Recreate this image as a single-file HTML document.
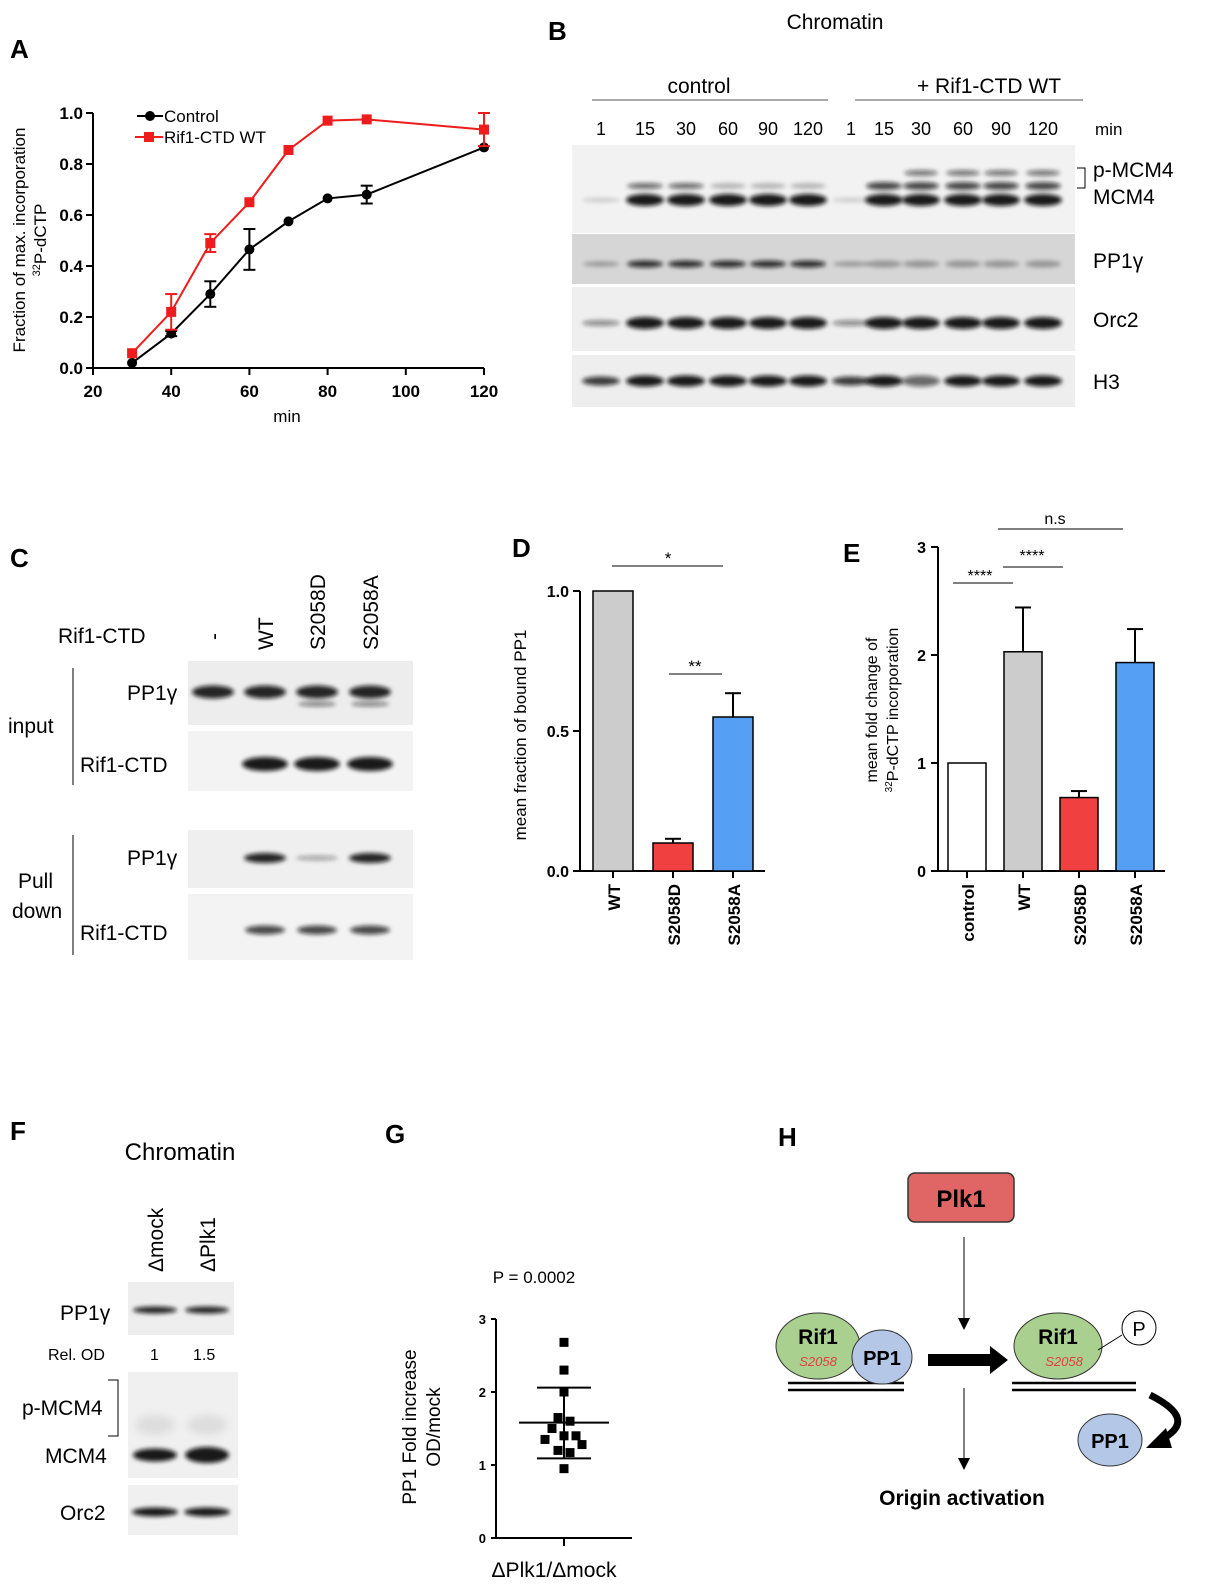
<!DOCTYPE html>
<html><head><meta charset="utf-8"><style>
body{margin:0;background:#fff}
svg{display:block;font-family:"Liberation Sans",Arial,sans-serif}
</style></head><body>
<svg width="1210" height="1595" viewBox="0 0 1210 1595">
<defs>
<filter id="bl" x="-30%" y="-100%" width="160%" height="300%"><feGaussianBlur stdDeviation="2.2"/></filter>
<filter id="bl2" x="-30%" y="-100%" width="160%" height="300%"><feGaussianBlur stdDeviation="4"/></filter>
</defs>
<g font-weight="bold" font-size="26" fill="#000">
<text x="10" y="58">A</text><text x="548" y="40">B</text><text x="10" y="567">C</text>
<text x="512" y="557">D</text><text x="843" y="562">E</text><text x="10" y="1140">F</text>
<text x="385" y="1143">G</text><text x="778" y="1146">H</text></g>
<g id="panelA"></g>
<g id="blotB"></g>
<g id="blotC"></g>
<g id="panelD"></g>
<g id="panelE"></g>
<g id="blotF"></g>
<g id="panelG"></g>
<g>
<rect x="908" y="1173" width="106" height="49" rx="7" fill="#e06666" stroke="#333" stroke-width="1.5"/>
<text x="961" y="1207" text-anchor="middle" font-size="24" font-weight="bold">Plk1</text>
<line x1="964" y1="1237" x2="964" y2="1320" stroke="#000" stroke-width="1"/><path d="M958 1318 L964 1330 L970 1318Z"/>
<line x1="964" y1="1388" x2="964" y2="1460" stroke="#000" stroke-width="1"/><path d="M958 1458 L964 1470 L970 1458Z"/>
<text x="962" y="1505" text-anchor="middle" font-size="21" font-weight="bold">Origin activation</text>
<line x1="788" y1="1383" x2="904" y2="1383" stroke="#000" stroke-width="2.5"/><line x1="788" y1="1390" x2="904" y2="1390" stroke="#000" stroke-width="2.5"/>
<ellipse cx="818" cy="1346" rx="42" ry="33" fill="#a9d08e" stroke="#333"/>
<text x="818" y="1344" text-anchor="middle" font-size="21" font-weight="bold">Rif1</text>
<text x="818" y="1366" text-anchor="middle" font-size="13" font-style="italic" fill="#e04040">S2058</text>
<ellipse cx="882" cy="1357" rx="30" ry="27" fill="#b4c7e7" stroke="#333"/>
<text x="882" y="1365" text-anchor="middle" font-size="20" font-weight="bold">PP1</text>
<path d="M928 1354 L990 1354 L990 1346 L1008 1360 L990 1374 L990 1366 L928 1366Z" fill="#000"/>
<line x1="1012" y1="1383" x2="1136" y2="1383" stroke="#000" stroke-width="2.5"/><line x1="1012" y1="1390" x2="1136" y2="1390" stroke="#000" stroke-width="2.5"/>
<ellipse cx="1058" cy="1346" rx="44" ry="33" fill="#a9d08e" stroke="#333"/>
<text x="1058" y="1344" text-anchor="middle" font-size="21" font-weight="bold">Rif1</text>
<text x="1064" y="1366" text-anchor="middle" font-size="13" font-style="italic" fill="#e04040">S2058</text>
<line x1="1098" y1="1350" x2="1122" y2="1335" stroke="#000"/>
<circle cx="1139" cy="1328" r="17" fill="#fff" stroke="#000"/>
<text x="1139" y="1336" text-anchor="middle" font-size="20">P</text>
<path d="M1150 1395 Q1200 1420 1160 1440" fill="none" stroke="#000" stroke-width="7"/><path d="M1146 1448 L1166 1428 L1172 1448Z"/>
<ellipse cx="1110" cy="1440" rx="32" ry="26" fill="#b4c7e7" stroke="#333"/>
<text x="1110" y="1448" text-anchor="middle" font-size="20" font-weight="bold">PP1</text>
</g>
<script>
const NS="http://www.w3.org/2000/svg";
function mk(p,t,a,txt){const e=document.createElementNS(NS,t);for(const k in a)e.setAttribute(k,a[k]);if(txt!==undefined)e.textContent=txt;p.appendChild(e);return e;}
// ---- Panel A data
const aTimes=[30,40,50,60,70,80,90,120];
const aControl=[0.02,0.135,0.29,0.465,0.575,0.665,0.68,0.865];
const aControlErr=[0,0.01,0.05,0.08,0,0,0.035,0];
const aRif1=[0.058,0.22,0.49,0.65,0.855,0.97,0.975,0.935];
const aRif1Err=[0,0.07,0.035,0,0,0,0,0.065];
const aXTicks=[20,40,60,80,100,120];
const aYTicks=[0,0.2,0.4,0.6,0.8,1.0];
// ---- Panel D data
const dCats=["WT","S2058D","S2058A"];
const dVals=[1.0,0.1,0.55];
const dErr=[0,0.015,0.085];
const dColors=["#cccccc","#f04040","#55a0f5"];
const dTicks=[0,0.5,1.0];
// ---- Panel E data
const eCats=["control","WT","S2058D","S2058A"];
const eVals=[1.0,2.03,0.68,1.93];
const eErr=[0,0.41,0.06,0.31];
const eColors=["#ffffff","#cccccc","#f04040","#55a0f5"];
const eTicks=[0,1,2,3];
// ---- Panel G data
const gVals=[2.68,2.3,2.0,1.65,1.6,1.5,1.35,1.4,1.4,1.28,1.2,1.17,0.95];
const gOff=[0,0,0,-6,6,-12,-19,0,12,18,-6,6,0];
const gMean=1.58,gSdHi=2.06,gSdLo=1.09;
const gTicks=[0,1,2,3];

// Panel A
(function(){const g=document.getElementById('panelA');
const X=v=>93+(v-20)*(484-93)/100, Y=v=>368-v*255;
mk(g,'line',{x1:93,y1:368,x2:484,y2:368,stroke:'#000','stroke-width':2});
mk(g,'line',{x1:93,y1:368,x2:93,y2:113,stroke:'#000','stroke-width':2});
aXTicks.forEach(t=>{mk(g,'line',{x1:X(t),y1:368,x2:X(t),y2:375,stroke:'#000','stroke-width':2});
const e=mk(g,'text',{x:X(t),y:397,'text-anchor':'middle','font-size':17,'font-weight':'bold'},t);});
aYTicks.forEach(t=>{mk(g,'line',{x1:86,y1:Y(t),x2:93,y2:Y(t),stroke:'#000','stroke-width':2});
const e=mk(g,'text',{x:83,y:Y(t)+6,'text-anchor':'end','font-size':17,'font-weight':'bold'},t.toFixed(1));});
mk(g,'text',{x:287,y:422,'text-anchor':'middle','font-size':17},'min');
mk(g,'text',{transform:'translate(25,240) rotate(-90)','text-anchor':'middle','font-size':17},'Fraction of max. incorporation');
const yt=mk(g,'text',{transform:'translate(46,240) rotate(-90)','text-anchor':'middle','font-size':17});
mk(yt,'tspan',{'font-size':11,dy:-6},'32');mk(yt,'tspan',{dy:6},'P-dCTP');
[[aControl,aControlErr,'#000','c'],[aRif1,aRif1Err,'#ee1c1c','s']].forEach(([vals,err,col,sh])=>{
const pts=aTimes.map((t,i)=>X(t)+','+Y(vals[i])).join(' ');
const pl=mk(g,'polyline',{points:pts,fill:'none',stroke:col,'stroke-width':2});
aTimes.forEach((t,i)=>{if(err[i]>0){mk(g,'line',{x1:X(t),y1:Y(vals[i]-err[i]),x2:X(t),y2:Y(vals[i]+err[i]),stroke:col,'stroke-width':2});
[vals[i]-err[i],vals[i]+err[i]].forEach(v=>mk(g,'line',{x1:X(t)-6,y1:Y(v),x2:X(t)+6,y2:Y(v),stroke:col,'stroke-width':2}));}
const m=sh=='c'?mk(g,'circle',{cx:X(t),cy:Y(vals[i]),r:5,fill:col}):mk(g,'rect',{x:X(t)-5,y:Y(vals[i])-5,width:10,height:10,fill:col});
});});
mk(g,'line',{x1:137,y1:116,x2:163,y2:116,stroke:'#000','stroke-width':2});mk(g,'circle',{cx:150,cy:116,r:5});
mk(g,'text',{x:164,y:122,'font-size':17},'Control');
mk(g,'line',{x1:135,y1:137,x2:163,y2:137,stroke:'#ee1c1c','stroke-width':2});mk(g,'rect',{x:144,y:132,width:10,height:10,fill:'#ee1c1c'});
mk(g,'text',{x:164,y:143,'font-size':17},'Rif1-CTD WT');
})();

function band(g,cx,cy,w,h,op,blur){const e=mk(g,'ellipse',{cx:cx,cy:cy,rx:w/2,ry:h/2,fill:'#111','fill-opacity':op,filter:blur?'url(#bl2)':'url(#bl)'});}
// Panel B blot
(function(){const g=document.getElementById('blotB');
const L=[601,645,686,728,768,808,851,884,921,963,1001,1043];
mk(g,'text',{x:835,y:29,'text-anchor':'middle','font-size':21},'Chromatin');
mk(g,'text',{x:699,y:93,'text-anchor':'middle','font-size':21},'control');
mk(g,'text',{x:989,y:93,'text-anchor':'middle','font-size':21},'+ Rif1-CTD WT');
mk(g,'line',{x1:592,y1:100,x2:828,y2:100,stroke:'#555'});mk(g,'line',{x1:855,y1:100,x2:1083,y2:100,stroke:'#555'});
['1','15','30','60','90','120','1','15','30','60','90','120'].forEach((t,i)=>mk(g,'text',{x:L[i],y:135,'text-anchor':'middle','font-size':18},t));
mk(g,'text',{x:1095,y:135,'font-size':17},'min');
mk(g,'rect',{x:572,y:145,width:503,height:88,fill:'#f2f2f2'});
mk(g,'rect',{x:572,y:234,width:503,height:50,fill:'#d6d6d6'});
mk(g,'rect',{x:572,y:287,width:503,height:64,fill:'#efefef'});
mk(g,'rect',{x:572,y:355,width:503,height:52,fill:'#eeeeee'});
L.forEach((x,i)=>{const ctl=i<6,first=(i==0||i==6);
band(g,x,200,38,first?5:12,first?0.15:0.95);
if(!first){band(g,x,186,36,ctl?6:8,ctl?(i<3?0.6:0.25):0.75);if(!ctl&&i>7)band(g,x,173,34,6,0.55);}
band(g,x,264,36,first?5:7,first?0.3:(ctl?0.85:0.3));
band(g,x,323,38,first?6:12,first?0.45:0.95);
band(g,x,381,38,first?9:11,first?0.8:(i==6||i==8?0.6:0.95));});
mk(g,'text',{x:1093,y:177,'font-size':21},'p-MCM4');mk(g,'text',{x:1093,y:204,'font-size':21},'MCM4');
mk(g,'path',{d:'M1077 168 L1085 168 L1085 188 L1077 188',fill:'none',stroke:'#000'});
mk(g,'text',{x:1093,y:268,'font-size':21},'PP1γ');mk(g,'text',{x:1093,y:327,'font-size':21},'Orc2');mk(g,'text',{x:1093,y:389,'font-size':21},'H3');
})();
// Panel C blot
(function(){const g=document.getElementById('blotC');const L=[213,265,317,370];
mk(g,'text',{x:58,y:643,'font-size':21},'Rif1-CTD');
['-','WT','S2058D','S2058A'].forEach((t,i)=>mk(g,'text',{transform:`translate(${L[i]+8},${i==0?640:650}) rotate(-90)`,'font-size':21},t));
mk(g,'rect',{x:188,y:661,width:225,height:64,fill:'#ededed'});mk(g,'rect',{x:188,y:731,width:225,height:60,fill:'#f3f3f3'});
mk(g,'rect',{x:188,y:830,width:225,height:58,fill:'#efefef'});mk(g,'rect',{x:188,y:894,width:225,height:66,fill:'#f3f3f3'});
L.forEach((x,i)=>{band(g,x,692,42,13,0.9);if(i>1)band(g,x,704,38,5,0.5);
if(i>0){band(g,x,764,46,14,0.95);band(g,x,858,42,i==2?5:10,i==2?0.35:0.9);band(g,x,930,40,9,0.75);}});
mk(g,'line',{x1:73,y1:668,x2:73,y2:785,stroke:'#000'});mk(g,'line',{x1:73,y1:835,x2:73,y2:955,stroke:'#000'});
mk(g,'text',{x:8,y:733,'font-size':21},'input');mk(g,'text',{x:18,y:888,'font-size':21},'Pull');mk(g,'text',{x:12,y:918,'font-size':21},'down');
mk(g,'text',{x:127,y:700,'font-size':21},'PP1γ');mk(g,'text',{x:80,y:772,'font-size':21},'Rif1-CTD');
mk(g,'text',{x:127,y:865,'font-size':21},'PP1γ');mk(g,'text',{x:80,y:940,'font-size':21},'Rif1-CTD');
})();
// Panel D
(function(){const g=document.getElementById('panelD');const Y=v=>871-v*280;const X0=580,bw=40,step=60;
mk(g,'line',{x1:X0,y1:871,x2:765,y2:871,stroke:'#000','stroke-width':2});mk(g,'line',{x1:X0,y1:871,x2:X0,y2:591,stroke:'#000','stroke-width':2});
dTicks.forEach(t=>{mk(g,'line',{x1:X0-7,y1:Y(t),x2:X0,y2:Y(t),stroke:'#000','stroke-width':2});mk(g,'text',{x:X0-11,y:Y(t)+6,'text-anchor':'end','font-size':16,'font-weight':'bold'},t.toFixed(1));});
dCats.forEach((c,i)=>{const cx=613+i*step;
const r=mk(g,'rect',{x:cx-bw/2,y:Y(dVals[i]),width:bw,height:871-Y(dVals[i]),fill:dColors[i],stroke:'#000','stroke-width':1.5});
if(dErr[i]>0){mk(g,'line',{x1:cx,y1:Y(dVals[i]),x2:cx,y2:Y(dVals[i]+dErr[i]),stroke:'#000','stroke-width':2});mk(g,'line',{x1:cx-8,y1:Y(dVals[i]+dErr[i]),x2:cx+8,y2:Y(dVals[i]+dErr[i]),stroke:'#000','stroke-width':2});}
mk(g,'line',{x1:cx,y1:871,x2:cx,y2:878,stroke:'#000','stroke-width':2});
mk(g,'text',{transform:`translate(${cx+7},884) rotate(-90)`,'text-anchor':'end','font-size':17,'font-weight':'bold'},c);});
mk(g,'text',{transform:'translate(526,735) rotate(-90)','text-anchor':'middle','font-size':17},'mean fraction of  bound PP1');
mk(g,'line',{x1:612,y1:566,x2:723,y2:566,stroke:'#000'});mk(g,'text',{x:668,y:564,'text-anchor':'middle','font-size':17},'*');
mk(g,'line',{x1:669,y1:674,x2:722,y2:674,stroke:'#000'});mk(g,'text',{x:695,y:672,'text-anchor':'middle','font-size':17},'**');
})();
// Panel E
(function(){const g=document.getElementById('panelE');const Y=v=>871-v*108;const X0=938,bw=38,step=56;
mk(g,'line',{x1:X0,y1:871,x2:1165,y2:871,stroke:'#000','stroke-width':2});mk(g,'line',{x1:X0,y1:871,x2:X0,y2:547,stroke:'#000','stroke-width':2});
eTicks.forEach(t=>{mk(g,'line',{x1:X0-7,y1:Y(t),x2:X0,y2:Y(t),stroke:'#000','stroke-width':2});mk(g,'text',{x:X0-12,y:Y(t)+6,'text-anchor':'end','font-size':16,'font-weight':'bold'},t);});
eCats.forEach((c,i)=>{const cx=967+i*step;
const r=mk(g,'rect',{x:cx-bw/2,y:Y(eVals[i]),width:bw,height:871-Y(eVals[i]),fill:eColors[i],stroke:'#000','stroke-width':1.5});
if(eErr[i]>0){mk(g,'line',{x1:cx,y1:Y(eVals[i]),x2:cx,y2:Y(eVals[i]+eErr[i]),stroke:'#000','stroke-width':2});mk(g,'line',{x1:cx-8,y1:Y(eVals[i]+eErr[i]),x2:cx+8,y2:Y(eVals[i]+eErr[i]),stroke:'#000','stroke-width':2});}
mk(g,'line',{x1:cx,y1:871,x2:cx,y2:878,stroke:'#000','stroke-width':2});
mk(g,'text',{transform:`translate(${cx+7},884) rotate(-90)`,'text-anchor':'end','font-size':17,'font-weight':'bold'},c);});
mk(g,'text',{transform:'translate(877,710) rotate(-90)','text-anchor':'middle','font-size':16},'mean fold change of');
const t=mk(g,'text',{transform:'translate(898,710) rotate(-90)','text-anchor':'middle','font-size':16});mk(t,'tspan',{'font-size':10,dy:-6},'32');mk(t,'tspan',{dy:6},'P-dCTP incorporation');
mk(g,'line',{x1:953,y1:583,x2:1013,y2:583,stroke:'#000'});mk(g,'text',{x:980,y:581,'text-anchor':'middle','font-size':16},'****');
mk(g,'line',{x1:1003,y1:567,x2:1063,y2:567,stroke:'#000'});mk(g,'text',{x:1032,y:561,'text-anchor':'middle','font-size':16},'****');
mk(g,'line',{x1:998,y1:529,x2:1123,y2:529,stroke:'#000'});mk(g,'text',{x:1055,y:524,'text-anchor':'middle','font-size':16},'n.s');
})();
// Panel F
(function(){const g=document.getElementById('blotF');const L=[155,207];
mk(g,'text',{x:180,y:1160,'text-anchor':'middle','font-size':24},'Chromatin');
['Δmock','ΔPlk1'].forEach((t,i)=>mk(g,'text',{transform:`translate(${L[i]+8},1272) rotate(-90)`,'font-size':21},t));
mk(g,'rect',{x:128,y:1282,width:106,height:53,fill:'#eeeeee'});mk(g,'rect',{x:128,y:1372,width:110,height:106,fill:'#f0f0f0'});mk(g,'rect',{x:128,y:1485,width:110,height:50,fill:'#f0f0f0'});
L.forEach((x,i)=>{band(g,x,1310,44,7,0.9);band(g,x,1455,44,i?16:13,0.95);band(g,x,1425,40,20,0.08,true);band(g,x,1512,46,9,0.95);});
mk(g,'text',{x:60,y:1320,'font-size':21},'PP1γ');mk(g,'text',{x:48,y:1360,'font-size':16},'Rel. OD');
mk(g,'text',{x:150,y:1360,'font-size':16},'1');mk(g,'text',{x:193,y:1360,'font-size':16},'1.5');
mk(g,'text',{x:22,y:1415,'font-size':21},'p-MCM4');mk(g,'text',{x:45,y:1463,'font-size':21},'MCM4');mk(g,'text',{x:60,y:1520,'font-size':21},'Orc2');
mk(g,'path',{d:'M108 1380 L118 1380 L118 1436 L108 1436',fill:'none',stroke:'#000'});
})();
// Panel G
(function(){const g=document.getElementById('panelG');const Y=v=>1538-v*73;const X0=496,cx=564;
mk(g,'line',{x1:X0,y1:1538,x2:632,y2:1538,stroke:'#000','stroke-width':2});mk(g,'line',{x1:X0,y1:1538,x2:X0,y2:1319,stroke:'#000','stroke-width':2});
gTicks.forEach(t=>{mk(g,'line',{x1:X0-5,y1:Y(t),x2:X0,y2:Y(t),stroke:'#000','stroke-width':2});mk(g,'text',{x:X0-10,y:Y(t)+5,'text-anchor':'end','font-size':13,'font-weight':'bold'},t);});
mk(g,'line',{x1:cx,y1:1538,x2:cx,y2:1546,stroke:'#000','stroke-width':2});
gVals.forEach((v,i)=>{const r=mk(g,'rect',{x:cx+gOff[i]-4.5,y:Y(v)-4.5,width:9,height:9,fill:'#000'});});
mk(g,'line',{x1:cx,y1:Y(gSdLo),x2:cx,y2:Y(gSdHi),stroke:'#000','stroke-width':2});
mk(g,'line',{x1:cx-27,y1:Y(gSdHi),x2:cx+27,y2:Y(gSdHi),stroke:'#000','stroke-width':2});
mk(g,'line',{x1:cx-27,y1:Y(gSdLo),x2:cx+27,y2:Y(gSdLo),stroke:'#000','stroke-width':2});
mk(g,'line',{x1:cx-45,y1:Y(gMean),x2:cx+45,y2:Y(gMean),stroke:'#000','stroke-width':2});
mk(g,'text',{x:534,y:1283,'text-anchor':'middle','font-size':17},'P = 0.0002');
mk(g,'text',{transform:'translate(416,1427) rotate(-90)','text-anchor':'middle','font-size':19},'PP1 Fold increase');
mk(g,'text',{transform:'translate(440,1427) rotate(-90)','text-anchor':'middle','font-size':19},'OD/mock');
mk(g,'text',{x:554,y:1577,'text-anchor':'middle','font-size':21},'ΔPlk1/Δmock');
})();
</script>
</svg>
</body></html>
